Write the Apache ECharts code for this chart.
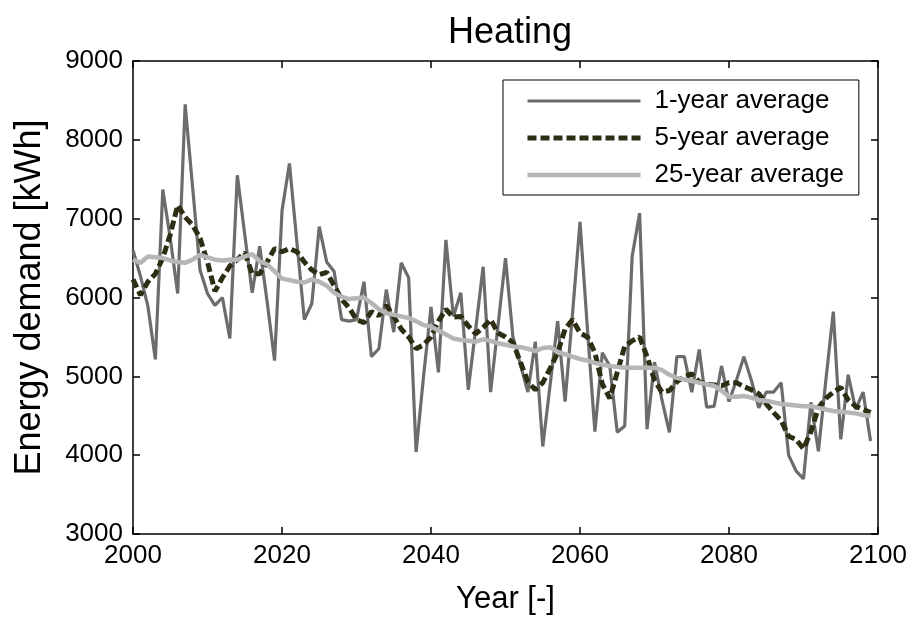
<!DOCTYPE html>
<html>
<head>
<meta charset="utf-8">
<script src="https://cdn.jsdelivr.net/npm/echarts@6/dist/echarts.min.js"></script>
<style>html,body{margin:0;padding:0;background:#fff;}#chart{width:911px;height:622px;}</style>
</head>
<body>
<div id="chart"></div>
<script>
const years = Array.from({length: 100}, (_, i) => 2000 + i);
const oneYear = [6600,6270,5890,5215,7370,6750,6050,8450,7400,6350,
  6050,5900,6000,5480,7550,6800,6060,6650,5950,5200,
  7100,7700,6700,5720,5920,6900,6450,6330,5720,5700,
  5720,6200,5250,5350,6100,5560,6440,6250,4040,5000,
  5880,5050,6730,5760,6060,4830,5600,6390,4800,5650,
  6500,5500,5150,4800,5440,4110,4900,5700,4680,5800,
  6960,5600,4300,5300,5130,4290,4370,6520,7070,4330,
  5180,4700,4290,5250,5250,4800,5340,4610,4620,5130,
  4680,4950,5250,4950,4600,4800,4800,4920,4000,3800,
  3700,4670,4050,4950,5820,4200,5020,4580,4800,4180];
const fiveYear = [6230,6030,6200,6300,6500,6800,7170,7020,6920,6750,
  6450,6080,6250,6400,6480,6570,6300,6300,6450,6620,
  6580,6620,6580,6450,6350,6290,6320,6150,5980,5870,
  5720,5680,5820,5770,5900,5760,5600,5500,5350,5400,
  5500,5700,5850,5750,5760,5640,5540,5620,5720,5550,
  5500,5430,5180,4930,4830,4920,5100,5300,5600,5720,
  5550,5500,5300,4900,4720,5050,5380,5450,5500,5250,
  4950,4800,4820,4930,5000,5030,4930,4900,4890,4880,
  4920,4920,4870,4830,4780,4650,4540,4440,4240,4200,
  4080,4300,4600,4720,4800,4860,4700,4620,4580,4540];
const twentyFiveYear = [6480,6440,6520,6510,6500,6470,6450,6440,6480,6540,
  6510,6480,6470,6480,6480,6520,6550,6460,6420,6330,
  6240,6220,6200,6190,6230,6200,6150,6060,6010,5980,
  5990,6000,5930,5850,5800,5780,5760,5740,5700,5650,
  5630,5580,5530,5480,5460,5450,5440,5470,5450,5420,
  5400,5380,5370,5350,5320,5360,5370,5310,5280,5250,
  5220,5200,5170,5150,5130,5120,5110,5110,5110,5110,
  5110,5080,5020,4980,4960,4940,4920,4900,4880,4820,
  4740,4740,4750,4730,4700,4690,4670,4650,4640,4630,
  4620,4620,4600,4580,4560,4550,4540,4530,4510,4500];
const seriesNames = ['1-year average', '5-year average', '25-year average'];
const titleText = 'Heating';
const xName = 'Year [-]';
const yName = 'Energy demand [kWh]';

const pair = arr => years.map((y, i) => [y, arr[i]]);
const FONT = 'Liberation Sans, Arial, sans-serif';
const chart = echarts.init(document.getElementById('chart'));
const axisLine = {show: true, onZero: false, lineStyle: {color: '#000', width: 1.5}};
const tick = {show: true, inside: true, length: 7, lineStyle: {color: '#000', width: 1.5}};
const plain = v => String(v);
const styles = [
  {color: '#6c6c6c', width: 3.2, type: 'solid'},
  {color: '#2e2e14', width: 5, type: [9, 4]},
  {color: '#b6b6b6', width: 4.5, type: 'solid'}
];
chart.setOption({
  animation: false,
  backgroundColor: '#fff',
  title: {text: titleText, left: 505, top: 10, textAlign: 'center',
    textStyle: {fontFamily: FONT, fontSize: 36, fontWeight: 'normal', color: '#000'}},
  grid: {left: 133, right: 33, top: 61, bottom: 88, containLabel: false},
  legend: {
    data: seriesNames.map((n, i) => ({name: n, lineStyle: {width: styles[i].width, color: styles[i].color, type: styles[i].type}})),
    orient: 'vertical', left: 503, top: 80,
    itemWidth: 113, itemHeight: 26, itemGap: 11,
    padding: [8, 15, 7, 22],
    borderColor: '#000', borderWidth: 1, backgroundColor: '#fff',
    itemStyle: {opacity: 0},
    textStyle: {fontFamily: FONT, fontSize: 26, color: '#000', padding: [0, 0, 0, 9]}
  },
  xAxis: [
    {type: 'value', min: 2000, max: 2100, interval: 20, name: xName,
     nameLocation: 'middle', nameGap: 50,
     nameTextStyle: {fontFamily: FONT, fontSize: 31, color: '#000'},
     axisLine: axisLine, axisTick: tick,
     axisLabel: {fontFamily: FONT, fontSize: 26, color: '#000', margin: 9, formatter: plain},
     splitLine: {show: false}},
    {type: 'value', min: 2000, max: 2100, interval: 20, position: 'top',
     axisLine: axisLine, axisTick: tick,
     axisLabel: {show: false}, splitLine: {show: false}}
  ],
  yAxis: [
    {type: 'value', min: 3000, max: 9000, interval: 1000, name: yName,
     nameLocation: 'middle', nameGap: 85,
     nameTextStyle: {fontFamily: FONT, fontSize: 36, color: '#000'},
     axisLine: axisLine, axisTick: tick,
     axisLabel: {fontFamily: FONT, fontSize: 26, color: '#000', margin: 10, formatter: plain},
     splitLine: {show: false}},
    {type: 'value', min: 3000, max: 9000, interval: 1000, position: 'right',
     axisLine: axisLine, axisTick: tick,
     axisLabel: {show: false}, splitLine: {show: false}}
  ],
  series: [
    {name: seriesNames[0], type: 'line', data: pair(oneYear), symbol: 'none',
     lineStyle: styles[0], itemStyle: {color: styles[0].color}},
    {name: seriesNames[1], type: 'line', data: pair(fiveYear), symbol: 'none',
     lineStyle: styles[1], itemStyle: {color: styles[1].color}},
    {name: seriesNames[2], type: 'line', data: pair(twentyFiveYear), symbol: 'none',
     lineStyle: styles[2], itemStyle: {color: styles[2].color}}
  ]
});
</script>
</body>
</html>
